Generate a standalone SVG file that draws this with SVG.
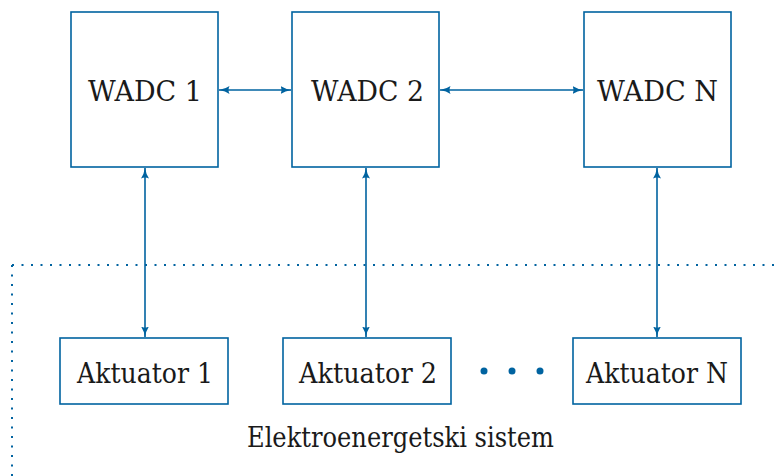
<svg xmlns="http://www.w3.org/2000/svg" width="781" height="476" viewBox="0 0 781 476">
<style>
.box{fill:#fff;stroke:#0063a0;stroke-width:1.6}
.t{font-size:27px;fill:#1a1a1a;text-anchor:middle}
.c{stroke:#0063a0;stroke-width:1.6;fill:none}
.d{stroke:#0063a0;stroke-width:2;fill:none;stroke-dasharray:2 7.5}
</style>
<defs>
<marker id="a" markerWidth="11" markerHeight="9" refX="10.5" refY="4.5" orient="auto-start-reverse" markerUnits="userSpaceOnUse">
<path d="M0,0.5 Q4,3.5 11,4.5 Q4,5.5 0,8.5 Q2,4.5 0,0.5 Z" fill="#0063a0"/>
</marker>
</defs>
<g id="boundary">
<path class="d" d="M12,265 H781 M12,265 V476"/>
</g>
<g font-family="DejaVu Serif, serif">
<g id="wadc1"><rect class="box" x="71" y="12" width="147" height="155"/><text class="t" x="145" y="101" textLength="114" lengthAdjust="spacingAndGlyphs">WADC 1</text></g>
<g id="wadc2"><rect class="box" x="292" y="12" width="147" height="155"/><text class="t" x="367.5" y="101" textLength="113" lengthAdjust="spacingAndGlyphs">WADC 2</text></g>
<g id="wadcN"><rect class="box" x="584" y="12" width="147" height="155"/><text class="t" x="657.5" y="101" textLength="121" lengthAdjust="spacingAndGlyphs">WADC N</text></g>
<g id="akt1"><rect class="box" x="60" y="338" width="168" height="66"/><text class="t" x="145" y="383" textLength="136" lengthAdjust="spacingAndGlyphs">Aktuator 1</text></g>
<g id="akt2"><rect class="box" x="283" y="338" width="168" height="66"/><text class="t" x="368" y="383" textLength="138" lengthAdjust="spacingAndGlyphs">Aktuator 2</text></g>
<g id="aktN"><rect class="box" x="573" y="338" width="168" height="66"/><text class="t" x="657" y="383" textLength="142" lengthAdjust="spacingAndGlyphs">Aktuator N</text></g>
<g id="label"><text class="t" x="400.5" y="447" textLength="307" lengthAdjust="spacingAndGlyphs">Elektroenergetski sistem</text></g>
</g>
<g id="dots" fill="#0063a0"><circle cx="484" cy="371" r="3.5"/><circle cx="512" cy="371" r="3.5"/><circle cx="540" cy="371" r="3.5"/></g>
<g id="connectors">
<line class="c" x1="219" y1="90" x2="291" y2="90" marker-start="url(#a)" marker-end="url(#a)"/>
<line class="c" x1="440" y1="90" x2="583" y2="90" marker-start="url(#a)" marker-end="url(#a)"/>
<line class="c" x1="145" y1="168" x2="145" y2="337" marker-start="url(#a)" marker-end="url(#a)"/>
<line class="c" x1="366" y1="168" x2="366" y2="337" marker-start="url(#a)" marker-end="url(#a)"/>
<line class="c" x1="657" y1="168" x2="657" y2="337" marker-start="url(#a)" marker-end="url(#a)"/>
</g>
</svg>
